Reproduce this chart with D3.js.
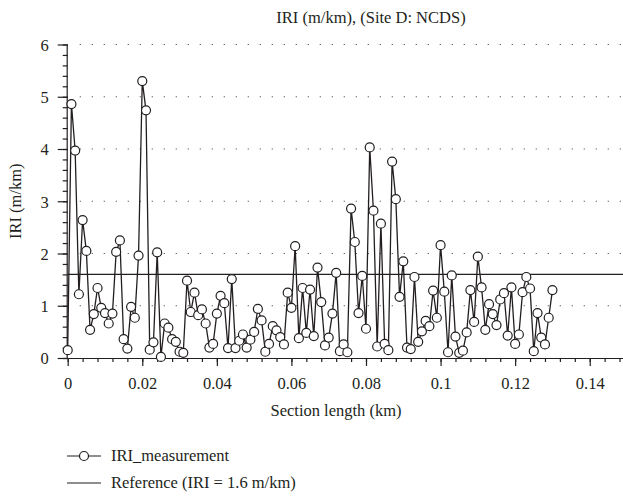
<!DOCTYPE html>
<html>
<head>
<meta charset="utf-8">
<script src="https://cdn.jsdelivr.net/npm/d3@7"></script>
<style>
  body { margin: 0; background: #fff; }
  svg text { font-family: 'Liberation Serif', 'Times New Roman', serif !important; font-size: 16.5px; }
</style>
</head>
<body>
<script>
// IRI readings every 0.001 km, from 0 to 0.13 km
const iriValues = [
  0.15, 4.86, 3.97, 1.22, 2.64, 2.05, 0.54, 0.84, 1.34, 0.96,
  0.86, 0.66, 0.85, 2.03, 2.25, 0.36, 0.18, 0.98, 0.77, 1.96,
  5.30, 4.74, 0.16, 0.30, 2.02, 0.02, 0.66, 0.58, 0.36, 0.31,
  0.12, 0.10, 1.48, 0.88, 1.25, 0.82, 0.93, 0.66, 0.20, 0.27,
  0.85, 1.19, 1.05, 0.19, 1.51, 0.19, 0.33, 0.45, 0.20, 0.35,
  0.50, 0.94, 0.72, 0.12, 0.27, 0.61, 0.53, 0.40, 0.26, 1.25,
  0.96, 2.14, 0.38, 1.34, 0.48, 1.31, 0.42, 1.73, 1.07, 0.24,
  0.39, 0.85, 1.63, 0.13, 0.26, 0.11, 2.86, 2.22, 0.86, 1.57,
  0.56, 4.03, 2.82, 0.22, 2.57, 0.27, 0.15, 3.76, 3.04, 1.17,
  1.85, 0.20, 0.17, 1.55, 0.31, 0.51, 0.71, 0.61, 1.29, 0.77,
  2.16, 1.27, 0.11, 1.58, 0.41, 0.10, 0.14, 0.49, 1.30, 0.69,
  1.94, 1.35, 0.54, 1.03, 0.84, 0.63, 1.12, 1.24, 0.43, 1.35,
  0.27, 0.45, 1.26, 1.55, 1.33, 0.13, 0.86, 0.39, 0.26, 0.77,
  1.30
];
const sectionLength = iriValues.map((v, i) => +(i * 0.001).toFixed(3));
const referenceIRI = 1.6;
const xTicks = [0, 0.02, 0.04, 0.06, 0.08, 0.1, 0.12, 0.14];
const yTicks = [0, 1, 2, 3, 4, 5, 6];

const data = iriValues.map((v, i) => ({ x: sectionLength[i], y: v }));

const width = 623;
const height = 497;
const plotLeft = 67.7;
const plotTop = 44.5;
const plotBottom = 358;
const ink = "#231f20";
const font = "Liberation Serif";

const svg = d3.select("body")
  .append("svg")
  .attr("width", width)
  .attr("height", height)
  .attr("font-family", font);

const xScale = d3.scaleLinear().domain([0, 0.15]).range([plotLeft, 627]);
const yScale = d3.scaleLinear().domain([0, 6]).range([plotBottom, plotTop]);

// dotted grid
svg.append("g")
  .selectAll("line")
  .data(yTicks.filter(d => d > 0))
  .enter()
  .append("line")
  .attr("x1", plotLeft + 12)
  .attr("x2", width)
  .attr("y1", d => yScale(d))
  .attr("y2", d => yScale(d))
  .attr("stroke", "#555")
  .attr("stroke-width", 1.2)
  .attr("stroke-dasharray", "1.2,10.8");

// minor ticks
const xMinor = d3.range(0, 0.1501, 0.004);
const yMinor = d3.range(0, 6.001, 0.2);

svg.append("g")
  .attr("transform", `translate(0, ${plotBottom})`)
  .call(d3.axisBottom(xScale).tickValues(xMinor).tickSize(4).tickFormat(""))
  .call(g => g.select(".domain").remove());

svg.append("g")
  .attr("transform", `translate(${plotLeft}, 0)`)
  .call(d3.axisLeft(yScale).tickValues(yMinor).tickSize(5).tickFormat(""))
  .call(g => g.select(".domain").remove());

// major axes
svg.append("g")
  .attr("transform", `translate(0, ${plotBottom})`)
  .call(d3.axisBottom(xScale).tickValues(xTicks).tickSize(8).tickPadding(11)
    .tickFormat(d => d === 0 ? "0" : d3.format("")(+d.toFixed(2))))
  .call(g => g.select(".domain").attr("d", `M${plotLeft},0.5H${width}`));

const yAxis = svg.append("g")
  .attr("transform", `translate(${plotLeft}, 0)`)
  .call(d3.axisLeft(yScale).tickValues(yTicks).tickSize(10).tickPadding(9).tickFormat(d3.format("d")))
  .call(g => g.select(".domain").attr("d", `M-0.5,${plotTop}V${plotBottom}`));

svg.selectAll(".tick line, .domain").attr("stroke", ink).attr("stroke-width", 1.2);
yAxis.selectAll(".tick text").attr("dy", "0.35em");

// reference line
svg.append("line")
  .attr("x1", plotLeft)
  .attr("x2", width)
  .attr("y1", yScale(referenceIRI))
  .attr("y2", yScale(referenceIRI))
  .attr("stroke", ink)
  .attr("stroke-width", 1.3);

// measurement line + markers
const line = d3.line().x(d => xScale(d.x)).y(d => yScale(d.y));

svg.append("path")
  .datum(data)
  .attr("d", line)
  .attr("fill", "none")
  .attr("stroke", ink)
  .attr("stroke-width", 1.3);

svg.append("g")
  .selectAll("circle")
  .data(data)
  .enter()
  .append("circle")
  .attr("cx", d => xScale(d.x))
  .attr("cy", d => yScale(d.y))
  .attr("r", 4.5)
  .attr("fill", "#fff")
  .attr("stroke", ink)
  .attr("stroke-width", 1.2);

// titles
svg.append("text")
  .attr("x", 371)
  .attr("y", 23)
  .attr("text-anchor", "middle")
  .text("IRI (m/km), (Site D: NCDS)");

svg.append("text")
  .attr("transform", `translate(21, ${(plotTop + plotBottom) / 2}) rotate(-90)`)
  .attr("text-anchor", "middle")
  .text("IRI (m/km)");

svg.append("text")
  .attr("x", 336)
  .attr("y", 416)
  .attr("text-anchor", "middle")
  .text("Section length (km)");

// legend
const legend = svg.append("g").attr("transform", "translate(67, 0)");

legend.append("line")
  .attr("x1", 0).attr("x2", 34)
  .attr("y1", 456).attr("y2", 456)
  .attr("stroke", ink).attr("stroke-width", 1.2);
legend.append("circle")
  .attr("cx", 17).attr("cy", 456).attr("r", 4.5)
  .attr("fill", "#fff").attr("stroke", ink).attr("stroke-width", 1.2);
legend.append("text")
  .attr("x", 44).attr("y", 461)
  .text("IRI_measurement");

legend.append("line")
  .attr("x1", 0).attr("x2", 34)
  .attr("y1", 483).attr("y2", 483)
  .attr("stroke", ink).attr("stroke-width", 1.2);
legend.append("text")
  .attr("x", 44).attr("y", 488)
  .text("Reference (IRI = 1.6 m/km)");

svg.selectAll("text")
  .attr("font-family", font)
  .attr("font-size", 16.5)
  .attr("fill", ink);
</script>
</body>
</html>
